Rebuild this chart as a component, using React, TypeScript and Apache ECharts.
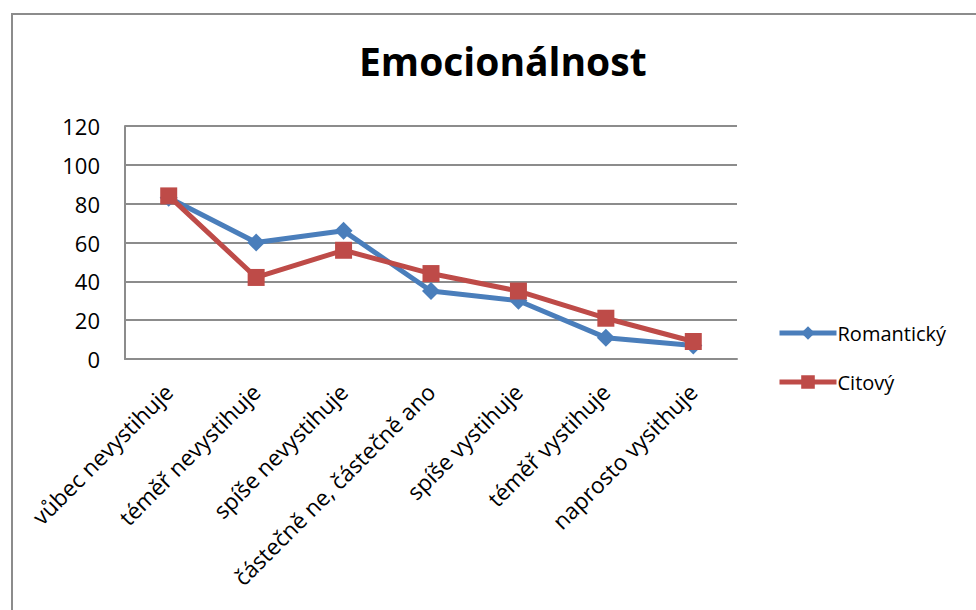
import React, { useEffect, useRef } from "react";
import * as echarts from "echarts";

const categories = [
  "vůbec nevystihuje",
  "téměř nevystihuje",
  "spíše nevystihuje",
  "částečně ne, částečně ano",
  "spíše vystihuje",
  "téměř vystihuje",
  "naprosto vysithuje",
];
const romanticky = [83, 60, 66, 35, 30, 11, 7];
const citovy = [84, 42, 56, 44, 35, 21, 9];
const seriesNames = ["Romantický", "Citový"];
const titleText = "Emocionálnost";

const FONT = "'Open Sans', Lato, sans-serif";

export default function App() {
  const ref = useRef<HTMLDivElement>(null);
  useEffect(() => {
    if (!ref.current) return;
    const chart = echarts.init(ref.current, undefined, { renderer: "svg" });
    chart.setOption({
      animation: false,
      backgroundColor: "#ffffff",
      title: {
        text: titleText,
        left: 354,
        top: 36,
        textStyle: { fontFamily: FONT, fontSize: 39, fontWeight: "bold", color: "#000" },
      },
      graphic: [
        {
          type: "rect",
          shape: { x: 12, y: 14, width: 1000, height: 700 },
          style: { fill: "none", stroke: "#8c8c8c", lineWidth: 2 },
          z: 100,
        },
      ],
      legend: {
        orient: "vertical",
        left: 772,
        top: 318,
        itemWidth: 57,
        itemHeight: 17,
        itemGap: 29,
        lineStyle: { width: 5 },
        textStyle: { fontFamily: FONT, fontSize: 20, color: "#000", padding: [0, 0, 0, -4] },
        data: seriesNames,
      },
      grid: { left: 125, top: 126, right: 239, bottom: 251, containLabel: false },
      xAxis: {
        type: "category",
        data: categories,
        boundaryGap: true,
        axisLine: { show: true, lineStyle: { color: "#8c8c8c", width: 2 } },
        axisTick: { show: false },
        axisLabel: {
          rotate: 45,
          interval: 0,
          margin: 29,
          fontFamily: FONT,
          fontSize: 22.5,
          color: "#000",
        },
      },
      yAxis: {
        type: "value",
        min: 0,
        max: 120,
        interval: 20,
        axisLine: { show: true, lineStyle: { color: "#8c8c8c", width: 2 } },
        axisTick: { show: false },
        splitLine: { show: true, lineStyle: { color: "#8c8c8c", width: 2 } },
        axisLabel: { margin: 25, fontFamily: FONT, fontSize: 22, color: "#000" },
      },
      series: [
        {
          name: seriesNames[0],
          type: "line",
          data: romanticky,
          symbol: "diamond",
          symbolSize: 18,
          lineStyle: { color: "#4a7ebb", width: 5 },
          itemStyle: { color: "#4a7ebb" },
        },
        {
          name: seriesNames[1],
          type: "line",
          data: citovy,
          symbol: "rect",
          symbolSize: 17,
          lineStyle: { color: "#be4b48", width: 5 },
          itemStyle: { color: "#be4b48" },
        },
      ],
    });
    return () => chart.dispose();
  }, []);
  return (
    <div
      ref={ref}
      style={{ position: "absolute", left: 0, top: 0, width: 976, height: 610 }}
    />
  );
}
